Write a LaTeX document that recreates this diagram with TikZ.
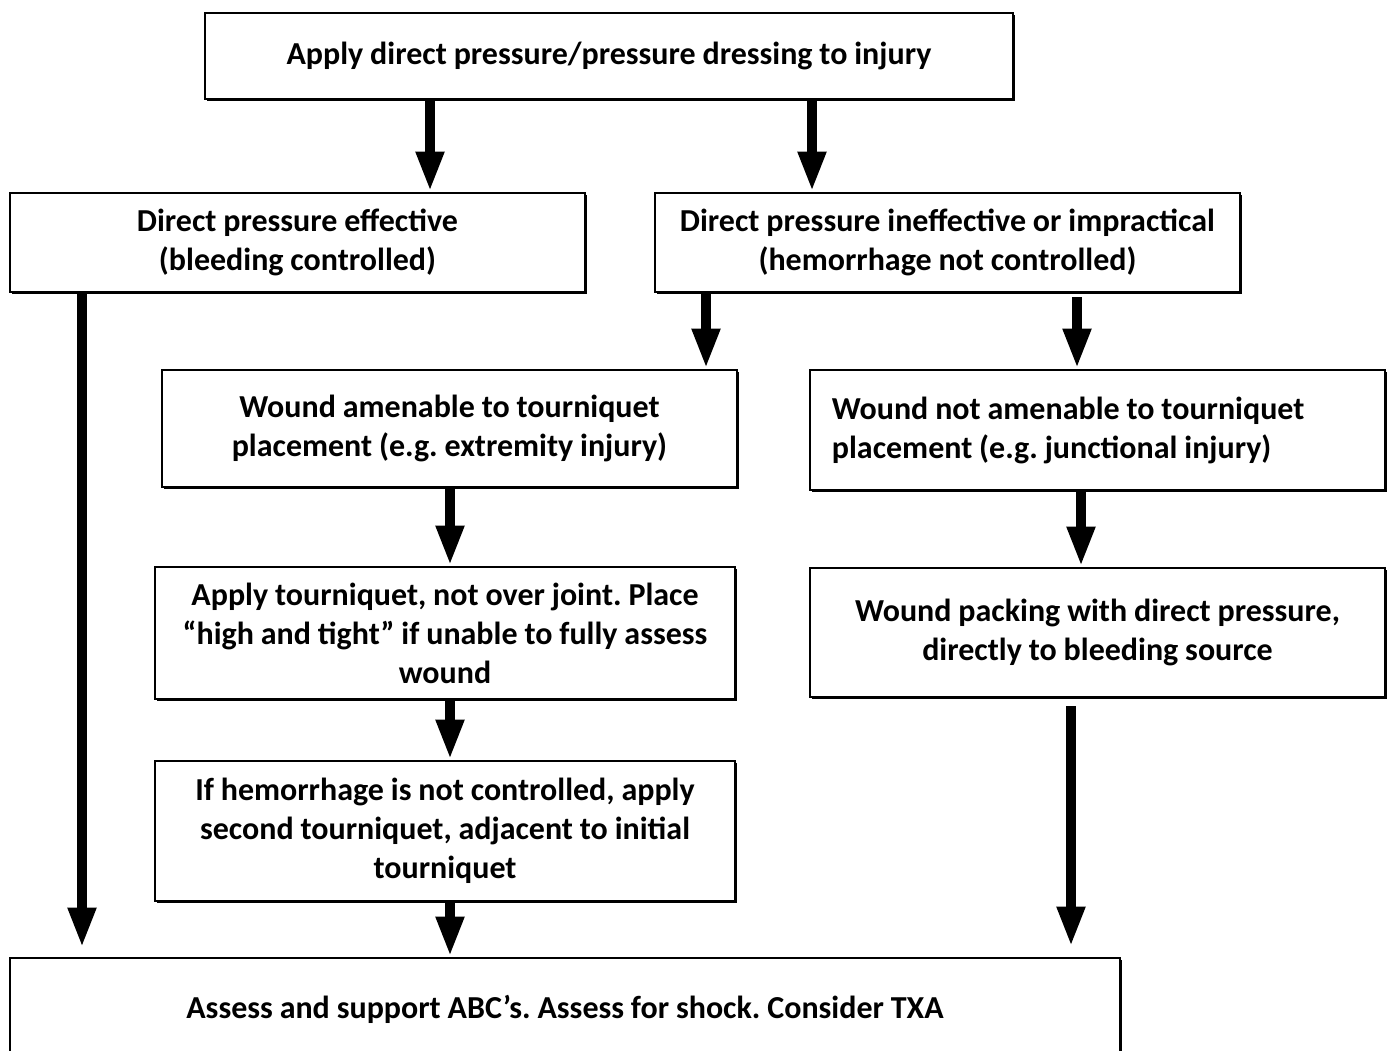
\documentclass[tikz,border=0pt]{standalone}
\usepackage{fontspec}
\setmainfont{Carlito}[WordSpace={0.95,0.1,0.1}]
\usetikzlibrary{arrows.meta,shadows}
\begin{document}
\begin{tikzpicture}[x=1pt,y=-1pt,
  boxtext/.style={inner sep=0pt,font=\fontsize{32}{39}\selectfont\bfseries\frenchspacing},
  box/.style={boxtext,draw,line width=2.6pt,fill=white,align=center,
    drop shadow={shadow xshift=1.6pt,shadow yshift=-1.6pt,fill=black,opacity=1}},
  arr/.style={line width=10pt,-{Triangle[width=26pt,length=40pt]}}]
\useasboundingbox (0,0) rectangle (1389,1050);
\begin{scope}
\clip (0,0) rectangle (1389,1050);
% boxes
\node[box,minimum width=808pt,minimum height=86pt] (top) at (609,56)
  {Apply direct pressure/pressure dressing to injury};
\node[box,minimum width=575pt,minimum height=99pt] (eff) at (297.5,242.5)
  {Direct pressure effective\\(bleeding controlled)};
\node[box,minimum width=585pt,minimum height=99pt] (ineff) at (947.5,242.5)
  {Direct pressure ineffective or impractical\\(hemorrhage not controlled)};
\node[box,minimum width=575pt,minimum height=117pt] (amen) at (449.5,428.5)
  {Wound amenable to tourniquet\\placement (e.g. extremity injury)};
\node[box,minimum width=575pt,minimum height=120pt] (notamen) at (1097.5,430) {};
\node[boxtext,anchor=west,align=left] (notamentext) at ([xshift=23pt]notamen.west)
  {Wound not amenable to tourniquet\\placement (e.g. junctional injury)};
\node[box,minimum width=580pt,minimum height=132pt] (apply) at (445,633)
  {Apply tourniquet, not over joint. Place\\“high and tight” if unable to fully assess\\wound};
\node[box,minimum width=575pt,minimum height=129pt] (pack) at (1097.5,632.5)
  {Wound packing with direct pressure,\\directly to bleeding source};
\node[box,minimum width=580pt,minimum height=140pt] (second) at (445,831)
  {If hemorrhage is not controlled, apply\\second tourniquet, adjacent to initial\\tourniquet};
\node[box,minimum width=1110pt,minimum height=102pt] (abc) at (565,1009)
  {Assess and support ABC’s. Assess for shock. Consider TXA};
% connectors
\draw[arr] (430,0 |- top.south) -- (430,0 |- eff.north);
\draw[arr] (812,0 |- top.south) -- (812,0 |- ineff.north);
\draw[arr,shorten >=9pt] (82,0 |- eff.south) -- (82,0 |- abc.north);
\draw[arr] (706,0 |- ineff.south) -- (706,0 |- amen.north);
\draw[arr,shorten <=4pt] (1077,0 |- ineff.south) -- (1077,0 |- notamen.north);
\draw[arr] (450,0 |- amen.south) -- (450,0 |- apply.north);
\draw[arr] (1081,0 |- notamen.south) -- (1081,0 |- pack.north);
\draw[arr] (450,0 |- apply.south) -- (450,0 |- second.north);
\draw[arr] (450,0 |- second.south) -- (450,0 |- abc.north);
\draw[arr,shorten <=8pt,shorten >=10pt] (1071,0 |- pack.south) -- (1071,0 |- abc.north);
\end{scope}
\end{tikzpicture}
\end{document}
